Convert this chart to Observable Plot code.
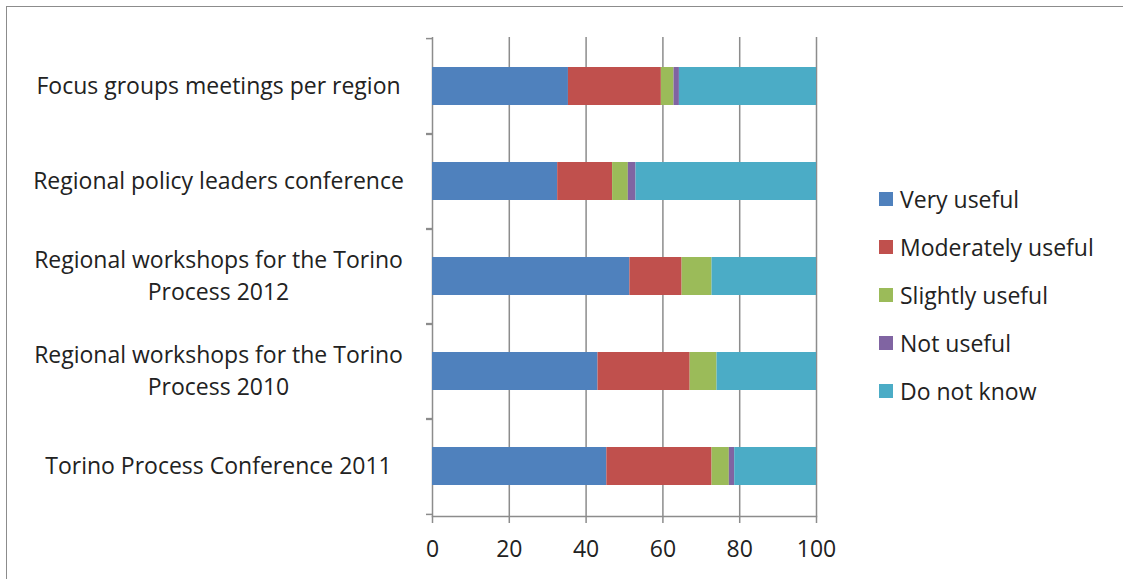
<!DOCTYPE html>
<html>
<head>
<meta charset="utf-8">
<script src="https://cdn.jsdelivr.net/npm/d3@7"></script>
<script src="https://cdn.jsdelivr.net/npm/@observablehq/plot@0.6"></script>
<style>
  html, body { margin: 0; padding: 0; background: #fff; overflow: hidden; }
  #wrap { position: relative; width: 1123px; height: 579px; font-family: "Open Sans", Lato, sans-serif; }
  #frame { position: absolute; left: 6px; top: 6px; width: 1300px; height: 800px; border: 1.5px solid #8c8c8c; box-sizing: border-box; pointer-events: none; }
  #chart { position: absolute; left: 0; top: 0; }
  #legend { position: absolute; left: 879px; top: 0; font-size: 23px; color: #222; }
  .item { position: absolute; left: 0; white-space: nowrap; display: flex; align-items: center; height: 30px; }
  .sw { width: 14px; height: 14px; margin-right: 7px; }
</style>
</head>
<body>
<div id="wrap">
  <div id="frame"></div>
  <div id="chart"></div>
  <div id="legend"></div>
</div>
<script>
// Categories, top to bottom
const categories = [
  "Focus groups meetings per region",
  "Regional policy leaders conference",
  "Regional workshops for the Torino\nProcess 2012",
  "Regional workshops for the Torino\nProcess 2010",
  "Torino Process Conference 2011"
];
// Response series (percent)
const series = ["Very useful", "Moderately useful", "Slightly useful", "Not useful", "Do not know"];
const veryUseful       = [35.4, 32.6, 51.4, 43.1, 45.4];
const moderatelyUseful = [24.2, 14.3, 13.6, 24.0, 27.4];
const slightlyUseful   = [3.3, 4.1, 7.8, 7.0, 4.5];
const notUseful        = [1.4, 2.0, 0, 0, 1.4];
const doNotKnow        = [35.7, 47.0, 27.2, 25.9, 21.3];
const xTicks = [0, 20, 40, 60, 80, 100];
const colors = ["#4F81BD", "#C0504D", "#9BBB59", "#8064A2", "#4BACC6"];

const seriesValues = [veryUseful, moderatelyUseful, slightlyUseful, notUseful, doNotKnow];
const data = [];
categories.forEach((c, i) => {
  series.forEach((s, j) => data.push({category: c, response: s, value: seriesValues[j][i]}));
});

const gray = "#8c8c8c";
const plotTop = 37, plotBottom = 516, nCat = categories.length;
const step = (plotBottom - plotTop) / nCat;

const chart = Plot.plot({
  width: 1123,
  height: 579,
  marginTop: plotTop,
  marginBottom: 579 - plotBottom,
  marginLeft: 432,
  marginRight: 1123 - 816,
  style: {fontFamily: "'Open Sans', Lato, sans-serif", fontSize: "23px", color: "#222", background: "transparent"},
  x: {domain: [0, 100], ticks: xTicks},
  y: {domain: categories, paddingInner: 0.6, paddingOuter: 0.3},
  color: {domain: series, range: colors},
  marks: [
    Plot.ruleX(xTicks, {stroke: gray, strokeWidth: 1.5}),
    Plot.barX(data, Plot.stackX({y: "category", x: "value", fill: "response", order: null})),
    Plot.frame({anchor: "bottom", stroke: gray, strokeWidth: 1.5}),
    Plot.axisX({ticks: xTicks, tickSize: 7, tickPadding: 17, stroke: gray, strokeWidth: 1.5, fontSize: 23, label: null, tickFormat: d => String(d)}),
    Plot.axisY({tickFormat: null, tickSize: 6, dy: -step / 2, stroke: gray, strokeWidth: 1.5, label: null}),
    Plot.axisY({tickFormat: null, tickSize: 6, dy: step / 2, stroke: gray, strokeWidth: 1.5, label: null}),
    Plot.text(categories, {y: d => d, text: d => d, frameAnchor: "left", dx: -214, dy: -3, textAnchor: "middle", lineHeight: 1.42, fontSize: 23, fill: "#222"})
  ]
});
document.getElementById("chart").appendChild(chart);

const legend = document.getElementById("legend");
const legendCenters = [199, 247, 295, 343, 391];
series.forEach((s, i) => {
  const item = document.createElement("div");
  item.className = "item";
  item.style.top = (legendCenters[i] - 15) + "px";
  const sw = document.createElement("span");
  sw.className = "sw";
  sw.style.background = colors[i];
  const label = document.createElement("span");
  label.textContent = s;
  item.appendChild(sw);
  item.appendChild(label);
  legend.appendChild(item);
});
</script>
</body>
</html>
